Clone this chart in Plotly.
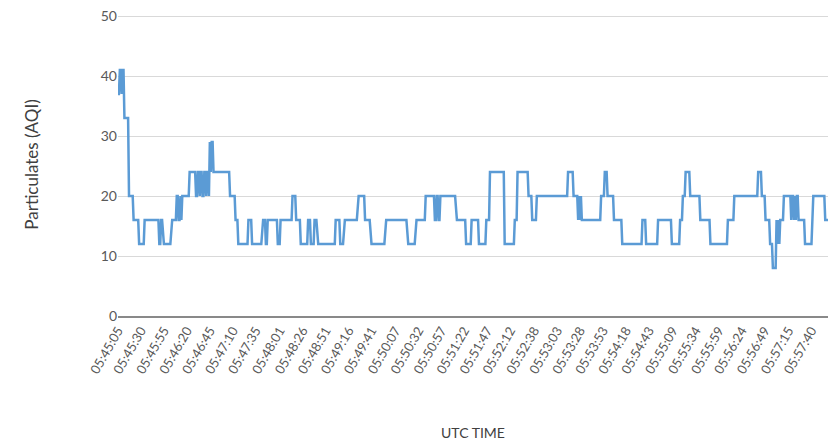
import pandas as pd
import plotly.graph_objects as go

# Times are seconds after 05:45:05 UTC.
START_TIME = "2000-01-01 05:45:05"
run_start_s = [0, 2, 4, 5, 7, 12, 17, 23, 29, 45, 47, 50, 59, 64, 66, 68, 69, 70, 78, 85,
               87, 89, 90, 92, 94, 96, 97, 99, 100, 101, 102, 104, 122, 128, 131, 142, 146, 158, 161, 163,
               174, 177, 190, 194, 199, 207, 210, 214, 218, 237, 242, 247, 262, 269, 276, 292, 316, 325, 335, 345,
               347, 349, 351, 369, 379, 385, 393, 401, 405, 421, 432, 435, 447, 451, 456, 490, 496, 501, 502, 503,
               504, 505, 526, 530, 533, 540, 549, 571, 575, 588, 603, 612, 615, 618, 623, 634, 645, 664, 671, 697,
               701, 705, 710, 713, 717, 718, 719, 720, 721, 725, 733, 734, 736, 737, 738, 739, 741, 748, 756, 757,
               770]
run_end_s = [1, 3, 4, 6, 11, 16, 22, 28, 44, 46, 48, 57, 63, 65, 67, 68, 69, 77, 84, 86,
             88, 89, 91, 93, 95, 96, 98, 99, 100, 101, 103, 121, 127, 130, 141, 145, 156, 160, 162, 173,
             176, 189, 193, 198, 206, 209, 213, 216, 236, 241, 245, 260, 268, 274, 290, 314, 323, 334, 344, 346,
             348, 350, 367, 378, 384, 392, 400, 404, 420, 431, 434, 446, 450, 455, 489, 495, 500, 501, 502, 503,
             504, 525, 529, 532, 539, 548, 570, 574, 587, 602, 611, 614, 617, 622, 633, 644, 663, 670, 696, 700,
             704, 709, 712, 716, 717, 718, 719, 720, 724, 732, 733, 735, 736, 737, 738, 740, 747, 755, 756, 769,
             773]
run_aqi = [37, 41, 37, 41, 33, 20, 16, 12, 16, 12, 16, 12, 16, 20, 16, 20, 16, 20, 24, 20,
           24, 20, 24, 20, 24, 20, 24, 20, 29, 24, 29, 24, 20, 16, 12, 16, 12, 16, 12, 16,
           12, 16, 20, 16, 12, 16, 12, 16, 12, 16, 12, 16, 20, 16, 12, 16, 12, 16, 20, 16,
           20, 16, 20, 16, 12, 16, 12, 16, 24, 12, 16, 24, 20, 16, 20, 24, 20, 16, 20, 16,
           20, 16, 20, 24, 20, 16, 12, 16, 12, 16, 12, 16, 20, 24, 20, 16, 12, 16, 20, 24,
           20, 16, 12, 8, 16, 12, 16, 12, 16, 20, 16, 20, 16, 20, 16, 20, 16, 12, 16, 20,
           16]

tick_labels = ["05:45:05", "05:45:30", "05:45:55", "05:46:20", "05:46:45", "05:47:10", "05:47:35",
               "05:48:01", "05:48:26", "05:48:51", "05:49:16", "05:49:41", "05:50:07", "05:50:32",
               "05:50:57", "05:51:22", "05:51:47", "05:52:12", "05:52:38", "05:53:03", "05:53:28",
               "05:53:53", "05:54:18", "05:54:43", "05:55:09", "05:55:34", "05:55:59", "05:56:24",
               "05:56:49", "05:57:15", "05:57:40"]
y_ticks = [0, 10, 20, 30, 40, 50]

t0 = pd.Timestamp(START_TIME)
xs, ys = [], []
for s, e, v in zip(run_start_s, run_end_s, run_aqi):
    xs.append(t0 + pd.Timedelta(seconds=s)); ys.append(v)
    if e > s:
        xs.append(t0 + pd.Timedelta(seconds=e)); ys.append(v)

tickvals = [pd.Timestamp("2000-01-01 " + t) for t in tick_labels]

fig = go.Figure(go.Scatter(x=xs, y=ys, mode="lines",
                           line=dict(color="#5B9BD5", width=2.5)))

FONT = "Lato, 'Open Sans', sans-serif"
# The page body has an 8px default margin, so the figure is 8px smaller each way.
fig.update_layout(
    width=828, height=435,
    margin=dict(l=110, r=8, t=5, b=127),
    paper_bgcolor="white", plot_bgcolor="white",
    showlegend=False,
    font=dict(family=FONT, color="#595959"),
    xaxis=dict(
        type="date", automargin=False,
        range=[t0, t0 + pd.Timedelta(seconds=773)],
        tickvals=tickvals, ticktext=tick_labels,
        tickangle=-60, tickfont=dict(size=13, color="#595959"),
        showgrid=False, showline=True, linecolor="#898989", linewidth=1.5,
        ticks="", zeroline=False, ticklabeloverflow="allow",
        title=dict(text="UTC TIME", font=dict(size=14, color="#404040"), standoff=53),
    ),
    yaxis=dict(
        automargin=False,
        range=[0, 50.5], tickvals=y_ticks,
        tickfont=dict(size=14, color="#595959"),
        showgrid=True, gridcolor="#d9d9d9", gridwidth=1,
        zeroline=False, showline=False, ticks="", ticklabeloverflow="allow",
        title=dict(text="Particulates (AQI)", font=dict(size=17, color="#404040"), standoff=57),
    ),
)

fig.write_html("out.html")
